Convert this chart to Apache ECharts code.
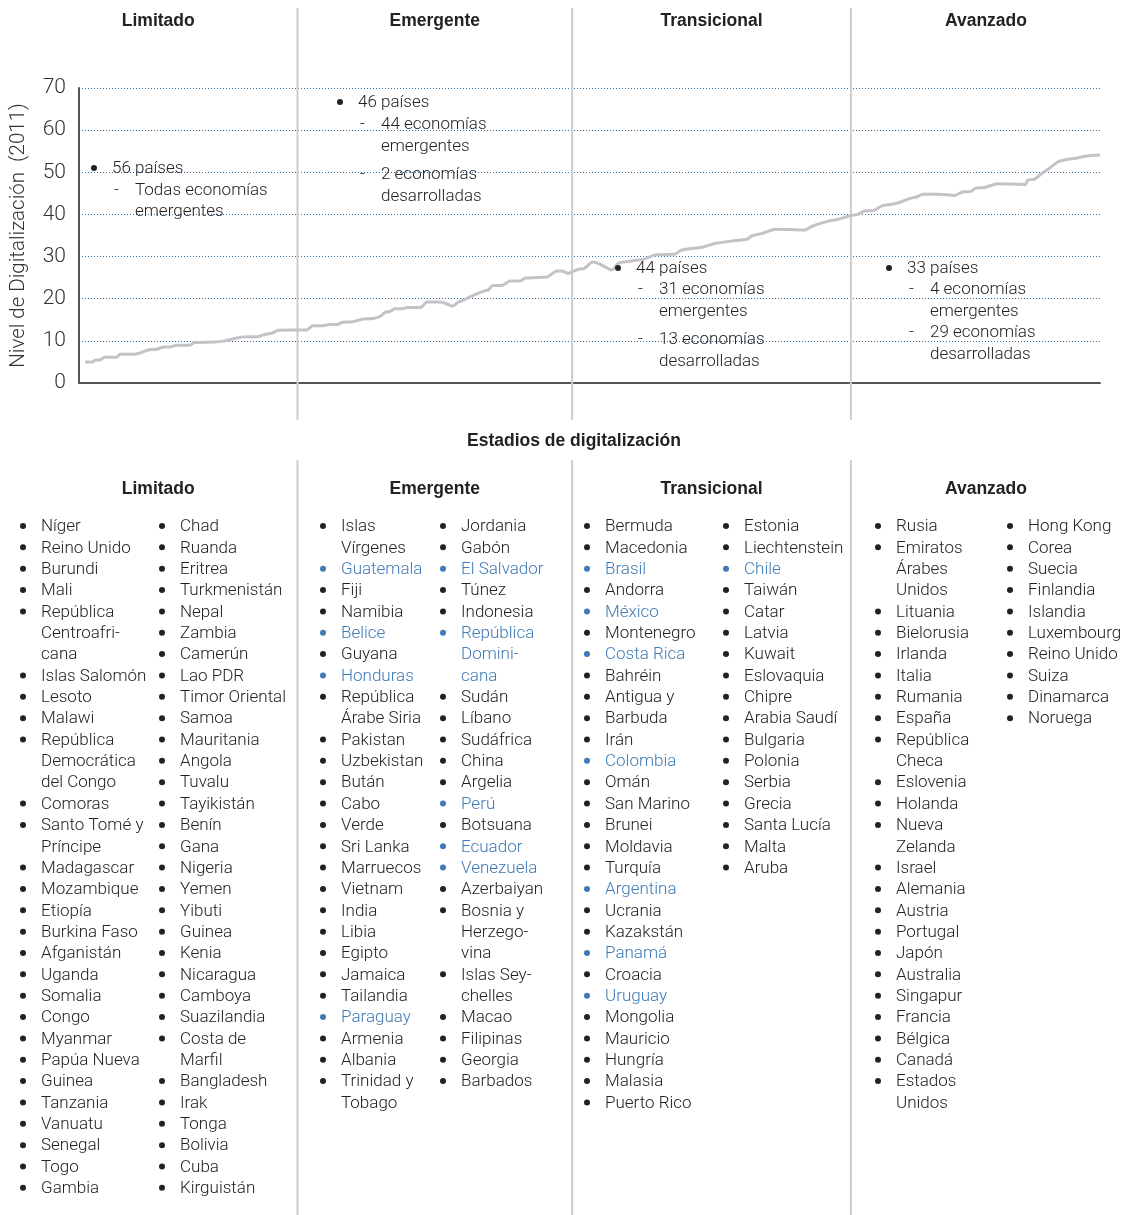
<!DOCTYPE html>
<html>
<head>
<meta charset="utf-8">
<script src="https://cdn.jsdelivr.net/npm/echarts@6/dist/echarts.min.js"></script>
<style>
  html, body { margin: 0; padding: 0; background: #fff; }
  #main { width: 1129px; height: 1215px; }
</style>
</head>
<body>
<div id="main"></div>
<script>
// etapas y bordes (escala horizontal 0-100)
var stages = ['Limitado', 'Emergente', 'Transicional', 'Avanzado'];
var stageBounds = [21.4, 48.3, 75.6];

// curva de digitalización (posición 0-100, nivel)
var lineX = [0.6, 1.3, 1.6, 2.1, 2.5, 3.7, 4.0, 5.3, 6.2, 6.8, 7.6, 8.2, 9.1, 9.4, 10.9, 11.3, 13.3, 14.3, 15.0, 16.0,
  17.5, 18.2, 18.9, 19.5, 22.3, 22.9, 23.9, 24.6, 25.3, 25.8, 26.8, 27.8, 28.8, 29.5, 30.0, 30.5, 30.9, 31.6, 32.1, 33.4,
  34.1, 35.4, 36.0, 36.6, 37.1, 37.6, 38.5, 39.5, 40.1, 40.5, 41.5, 42.2, 43.2, 43.7, 45.4, 45.9, 46.8, 47.3, 47.9, 48.4,
  48.9, 49.5, 50.3, 51.1, 52.2, 52.8, 54.2, 55.4, 56.4, 58.4, 58.9, 59.6, 61.0, 62.3, 64.0, 65.4, 65.9, 66.9, 68.2, 71.1,
  71.8, 73.4, 74.3, 75.5, 76.3, 77.0, 77.7, 78.7, 79.6, 80.4, 81.4, 82.1, 82.6, 84.1, 85.8, 86.6, 87.3, 87.8, 88.7, 90.0,
  92.7, 92.9, 93.6, 94.3, 94.9, 95.9, 96.9, 97.8, 98.8, 100];
var lineY = [5.0, 5.0, 5.4, 5.5, 6.1, 6.1, 6.8, 6.8, 7.3, 7.9, 8.0, 8.5, 8.6, 8.9, 9.0, 9.6, 9.7, 10.0, 10.4, 10.9,
  11.0, 11.5, 11.8, 12.5, 12.6, 13.6, 13.6, 13.9, 13.9, 14.4, 14.5, 15.2, 15.3, 15.8, 16.8, 17.0, 17.6, 17.6, 17.9, 17.9,
  19.2, 19.2, 18.8, 18.2, 19.1, 19.6, 20.7, 21.7, 22.1, 23.1, 23.2, 24.2, 24.2, 24.9, 25.1, 25.2, 26.6, 26.6, 26.0, 26.5,
  27.0, 27.2, 28.7, 28.1, 26.8, 28.4, 29.0, 29.4, 30.4, 30.6, 31.4, 31.8, 32.2, 33.1, 33.7, 34.1, 34.9, 35.5, 36.5, 36.3,
  37.2, 38.4, 38.8, 39.7, 40.0, 40.9, 40.9, 42.1, 42.4, 42.9, 43.8, 44.2, 44.8, 44.8, 44.5, 45.4, 45.4, 46.2, 46.4, 47.3,
  47.1, 48.1, 48.4, 49.7, 50.7, 52.5, 53.1, 53.4, 53.9, 54.1];

// textos de cada etapa dentro del gráfico
var notesLimitado = ['56 países', '-Todas economías', ' emergentes'];
var notesEmergente = ['46 países', '-44 economías', ' emergentes', '-2 economías', ' desarrolladas'];
var notesTransicional = ['44 países', '-31 economías', ' emergentes', '-13 economías', ' desarrolladas'];
var notesAvanzado = ['33 países', '-4 economías', ' emergentes', '-29 economías', ' desarrolladas'];

// listas de países
var limitado1 = ['Níger', 'Reino Unido', 'Burundi', 'Mali', 'República\nCentroafri-\ncana', 'Islas Salomón', 'Lesoto',
  'Malawi', 'República\nDemocrática\ndel Congo', 'Comoras', 'Santo Tomé y\nPríncipe', 'Madagascar', 'Mozambique',
  'Etiopía', 'Burkina Faso', 'Afganistán', 'Uganda', 'Somalia', 'Congo', 'Myanmar', 'Papúa Nueva', 'Guinea',
  'Tanzania', 'Vanuatu', 'Senegal', 'Togo', 'Gambia'];
var limitado2 = ['Chad', 'Ruanda', 'Eritrea', 'Turkmenistán', 'Nepal', 'Zambia', 'Camerún', 'Lao PDR',
  'Timor Oriental', 'Samoa', 'Mauritania', 'Angola', 'Tuvalu', 'Tayikistán', 'Benín', 'Gana', 'Nigeria', 'Yemen',
  'Yibuti', 'Guinea', 'Kenia', 'Nicaragua', 'Camboya', 'Suazilandia', 'Costa de\nMarfil', 'Bangladesh', 'Irak',
  'Tonga', 'Bolivia', 'Cuba', 'Kirguistán'];
var emergente1 = ['Islas\nVírgenes', '*Guatemala', 'Fiji', 'Namibia', '*Belice', 'Guyana', '*Honduras',
  'República\nÁrabe Siria', 'Pakistan', 'Uzbekistan', 'Bután', 'Cabo', 'Verde', 'Sri Lanka', 'Marruecos', 'Vietnam',
  'India', 'Libia', 'Egipto', 'Jamaica', 'Tailandia', '*Paraguay', 'Armenia', 'Albania', 'Trinidad y\nTobago'];
var emergente2 = ['Jordania', 'Gabón', '*El Salvador', 'Túnez', 'Indonesia', '*República\nDomini-\ncana', 'Sudán',
  'Líbano', 'Sudáfrica', 'China', 'Argelia', '*Perú', 'Botsuana', '*Ecuador', '*Venezuela', 'Azerbaiyan',
  'Bosnia y\nHerzego-\nvina', 'Islas Sey-\nchelles', 'Macao', 'Filipinas', 'Georgia', 'Barbados'];
var transicional1 = ['Bermuda', 'Macedonia', '*Brasil', 'Andorra', '*México', 'Montenegro', '*Costa Rica', 'Bahréin',
  'Antigua y', 'Barbuda', 'Irán', '*Colombia', 'Omán', 'San Marino', 'Brunei', 'Moldavia', 'Turquía', '*Argentina',
  'Ucrania', 'Kazakstán', '*Panamá', 'Croacia', '*Uruguay', 'Mongolia', 'Mauricio', 'Hungría', 'Malasia',
  'Puerto Rico'];
var transicional2 = ['Estonia', 'Liechtenstein', '*Chile', 'Taiwán', 'Catar', 'Latvia', 'Kuwait', 'Eslovaquia',
  'Chipre', 'Arabia Saudí', 'Bulgaria', 'Polonia', 'Serbia', 'Grecia', 'Santa Lucía', 'Malta', 'Aruba'];
var avanzado1 = ['Rusia', 'Emiratos\nÁrabes\nUnidos', 'Lituania', 'Bielorusia', 'Irlanda', 'Italia', 'Rumania',
  'España', 'República\nCheca', 'Eslovenia', 'Holanda', 'Nueva\nZelanda', 'Israel', 'Alemania', 'Austria',
  'Portugal', 'Japón', 'Australia', 'Singapur', 'Francia', 'Bélgica', 'Canadá', 'Estados\nUnidos'];
var avanzado2 = ['Hong Kong', 'Corea', 'Suecia', 'Finlandia', 'Islandia', 'Luxembourg', 'Reino Unido', 'Suiza',
  'Dinamarca', 'Noruega'];

var FONT = 'Roboto, "Liberation Sans", Arial, sans-serif';
var BOLD_FONT = '"Liberation Sans", Arial, sans-serif';
var DARK = '#222';
var BLUE = '#3f7ab5';

var chart = echarts.init(document.getElementById('main'));

var lineData = lineX.map(function (x, i) { return [x, lineY[i]]; });

chart.setOption({
  backgroundColor: '#fff',
  animation: false,
  grid: { left: 79, right: 29, top: 88, bottom: 832, outerBoundsMode: 'none', containLabel: false },
  xAxis: {
    type: 'value', min: 0, max: 100,
    axisLine: { show: true, lineStyle: { color: '#555', width: 2 } },
    axisTick: { show: false }, axisLabel: { show: false }, splitLine: { show: false }
  },
  yAxis: {
    type: 'value', min: 0, max: 70, interval: 10,
    name: 'Nivel de Digitalización  (2011)',
    nameLocation: 'middle', nameRotate: 90, nameGap: 50,
    nameTextStyle: { fontSize: 20.5, color: '#333', fontFamily: FONT, fontWeight: 300 },
    axisLine: { show: true, lineStyle: { color: '#555', width: 2 } },
    axisTick: { show: false },
    axisLabel: { fontSize: 21, color: '#333', fontFamily: FONT, fontWeight: 300, margin: 13 },
    splitLine: { show: true, lineStyle: { color: '#2f6fa8', type: [1, 2], width: 1 } }
  },
  series: [{
    type: 'line',
    data: lineData,
    showSymbol: false,
    smooth: 0.2,
    lineStyle: { color: '#c3c3c6', width: 3 },
    z: 3
  }]
});

// ---- decoración y textos ----
var sepX = stageBounds.map(function (b) { return chart.convertToPixel({ xAxisIndex: 0 }, b); });
var colEdges = [19].concat(sepX).concat([1121]);

function txt(x, y, s, o) {
  o = o || {};
  return {
    type: 'text', x: x, y: y + 2, z: 10, silent: true,
    style: {
      text: s, fill: o.color || DARK, fontSize: o.size || 17, fontFamily: o.family || FONT,
      fontWeight: o.weight || 300, align: o.align || 'left', verticalAlign: 'middle',
      textAlign: o.align || 'left', textVerticalAlign: 'middle'
    }
  };
}
function dot(x, y, c) {
  return { type: 'circle', silent: true, z: 10, shape: { cx: x, cy: y + 1, r: 3 }, style: { fill: c || DARK } };
}

var els = [];

// separadores verticales
sepX.forEach(function (x) {
  els.push({ type: 'line', silent: true, z: 1, shape: { x1: x, y1: 8, x2: x, y2: 420 },
    style: { stroke: '#cccccc', lineWidth: 2 } });
  els.push({ type: 'line', silent: true, z: 1, shape: { x1: x, y1: 460, x2: x, y2: 1215 },
    style: { stroke: '#cccccc', lineWidth: 2 } });
});

// encabezados
stages.forEach(function (s, i) {
  var cx = (colEdges[i] + colEdges[i + 1]) / 2;
  els.push(txt(cx, 19, s, { weight: 'bold', align: 'center', family: BOLD_FONT, size: 17.5 }));
  els.push(txt(cx, 487, s, { weight: 'bold', align: 'center', family: BOLD_FONT, size: 17.5 }));
});
els.push(txt(574, 439, 'Estadios de digitalización', { weight: 'bold', align: 'center', family: BOLD_FONT, size: 17.5 }));

// notas dentro del gráfico
function notes(list, bx, y0, gaps) {
  var y = y0;
  list.forEach(function (line, i) {
    if (i === 0) {
      els.push(dot(bx + 4, y));
      els.push(txt(bx + 22, y, line));
    } else if (line.charAt(0) === '-') {
      els.push(txt(bx + 24, y, '-'));
      els.push(txt(bx + 45, y, line.slice(1)));
    } else {
      els.push(txt(bx + 45, y, line.slice(1)));
    }
    y += gaps[i] || 21.5;
  });
}
notes(notesLimitado, 90, 167, [22, 21]);
notes(notesEmergente, 336, 101, [21.5, 22, 28, 22]);
notes(notesTransicional, 614, 267, [21, 21.5, 28.5, 21.5]);
notes(notesAvanzado, 885, 267, [21, 21.5, 21.5, 21.5]);

// listas de países
var ROW0 = 525, ROWH = 21.35;
function column(list, bx) {
  var r = 0;
  list.forEach(function (item) {
    var blue = item.charAt(0) === '*';
    var name = blue ? item.slice(1) : item;
    var c = blue ? BLUE : DARK;
    els.push(dot(bx + 4, ROW0 + r * ROWH, c));
    name.split('\n').forEach(function (ln) {
      els.push(txt(bx + 22, ROW0 + r * ROWH, ln, { color: c }));
      r++;
    });
  });
}
column(limitado1, 19);
column(limitado2, 158);
column(emergente1, 319);
column(emergente2, 439);
column(transicional1, 583);
column(transicional2, 722);
column(avanzado1, 874);
column(avanzado2, 1006);

chart.setOption({ graphic: { elements: els } });
</script>
</body>
</html>
